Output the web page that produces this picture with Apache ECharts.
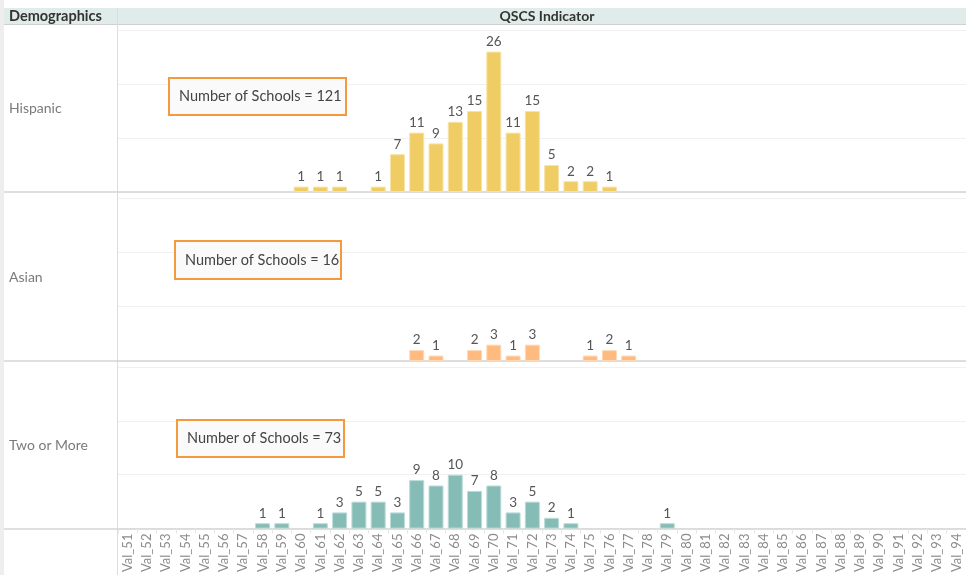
<!DOCTYPE html>
<html>
<head>
    <meta charset="utf-8">
    <title>QSCS Indicator</title>
    <style>
        html, body { margin: 0; padding: 0; background: #fff; }
        #container { width: 966px; height: 575px; }
    </style>
</head>
<body>
<div id="container"></div>
<script src="https://cdn.jsdelivr.net/npm/echarts@6/dist/echarts.min.js"></script>
<script type="text/javascript">
    // x categories (tick labels)
    var categories = ['Val_51', 'Val_52', 'Val_53', 'Val_54', 'Val_55', 'Val_56', 'Val_57', 'Val_58', 'Val_59', 'Val_60',
        'Val_61', 'Val_62', 'Val_63', 'Val_64', 'Val_65', 'Val_66', 'Val_67', 'Val_68', 'Val_69', 'Val_70',
        'Val_71', 'Val_72', 'Val_73', 'Val_74', 'Val_75', 'Val_76', 'Val_77', 'Val_78', 'Val_79', 'Val_80',
        'Val_81', 'Val_82', 'Val_83', 'Val_84', 'Val_85', 'Val_86', 'Val_87', 'Val_88', 'Val_89', 'Val_90',
        'Val_91', 'Val_92', 'Val_93', 'Val_94'];

    var groups = ['Hispanic', 'Asian', 'Two or More'];

    // number of schools per indicator value
    var hispanic = [['Val_60', 1], ['Val_61', 1], ['Val_62', 1], ['Val_64', 1], ['Val_65', 7], ['Val_66', 11],
        ['Val_67', 9], ['Val_68', 13], ['Val_69', 15], ['Val_70', 26], ['Val_71', 11], ['Val_72', 15],
        ['Val_73', 5], ['Val_74', 2], ['Val_75', 2], ['Val_76', 1]];
    var asian = [['Val_66', 2], ['Val_67', 1], ['Val_69', 2], ['Val_70', 3], ['Val_71', 1], ['Val_72', 3],
        ['Val_75', 1], ['Val_76', 2], ['Val_77', 1]];
    var twoOrMore = [['Val_58', 1], ['Val_59', 1], ['Val_61', 1], ['Val_62', 3], ['Val_63', 5], ['Val_64', 5],
        ['Val_65', 3], ['Val_66', 9], ['Val_67', 8], ['Val_68', 10], ['Val_69', 7], ['Val_70', 8],
        ['Val_71', 3], ['Val_72', 5], ['Val_73', 2], ['Val_74', 1], ['Val_79', 1]];

    var totals = [121, 16, 73];

    var seriesData = [hispanic, asian, twoOrMore];
    var colors = [
        { fill: '#f0cd64', border: '#f7e3a6' },
        { fill: '#ffba7f', border: '#ffd9b6' },
        { fill: '#86bcb6', border: '#bcdcd8' }
    ];

    var FONT = 'Lato';
    var gridTops = [30, 198, 367];
    var gridHeights = [162, 163, 162];
    var boxes = [
        { x: 169, y: 78, w: 177, h: 37 },
        { x: 175, y: 241, w: 166, h: 38 },
        { x: 177, y: 420, w: 167, h: 37 }
    ];
    var rowLabelY = [108, 277, 445];

    var dom = document.getElementById('container');
    var myChart = echarts.init(dom);

    var grids = [], xAxes = [], yAxes = [], series = [];
    for (var i = 0; i < 3; i++) {
        grids.push({ left: 118, right: 0, top: gridTops[i], height: gridHeights[i], containLabel: false });
        xAxes.push({
            type: 'category',
            gridIndex: i,
            data: categories,
            axisLine: { show: true, lineStyle: { color: '#d4d4d4', width: 1.5 } },
            axisTick: { show: i === 2, length: 5, lineStyle: { color: '#e6e6e6' } },
            axisLabel: {
                show: i === 2,
                rotate: 90,
                interval: 0,
                margin: 5,
                fontFamily: FONT,
                fontSize: 13,
                color: '#8c8c8c'
            }
        });
        yAxes.push({
            type: 'value',
            gridIndex: i,
            min: 0,
            max: 30,
            interval: 10,
            axisLabel: { show: false },
            axisLine: { show: false },
            axisTick: { show: false },
            splitLine: { show: true, lineStyle: { color: '#f0f0f0', width: 1 } }
        });
        series.push({
            name: groups[i],
            type: 'bar',
            xAxisIndex: i,
            yAxisIndex: i,
            barWidth: 15,
            data: seriesData[i],
            itemStyle: { color: colors[i].fill, borderColor: colors[i].border, borderWidth: 1 },
            label: {
                show: true,
                position: 'top',
                distance: 3,
                fontFamily: FONT,
                fontSize: 13.5,
                color: '#555'
            }
        });
    }

    var graphic = [
        // left margin strip
        { type: 'rect', shape: { x: 0, y: 0, width: 4, height: 575 }, style: { fill: '#eeeeee' }, silent: true },
        // header band
        { type: 'rect', shape: { x: 4, y: 8, width: 962, height: 16 }, style: { fill: '#dfece9' }, silent: true },
        { type: 'line', shape: { x1: 4, y1: 24.5, x2: 966, y2: 24.5 }, style: { stroke: '#d0d0d0', lineWidth: 1 }, silent: true },
        { type: 'text', x: 9, y: 16.5, style: { text: 'Demographics', fontFamily: FONT, fontWeight: 'bold', fontSize: 14.5, fill: '#333', verticalAlign: 'middle' } },
        { type: 'text', x: 547, y: 16.5, style: { text: 'QSCS Indicator', fontFamily: FONT, fontWeight: 'bold', fontSize: 14, fill: '#333', align: 'center', verticalAlign: 'middle' } },
        // left column divider
        { type: 'line', shape: { x1: 117.5, y1: 8, x2: 117.5, y2: 575 }, style: { stroke: '#dcdcdc', lineWidth: 1 }, silent: true }
    ];
    for (var j = 0; j < 3; j++) {
        var baseY = gridTops[j] + gridHeights[j];
        graphic.push({ type: 'line', shape: { x1: 4, y1: baseY, x2: 118, y2: baseY }, style: { stroke: '#d4d4d4', lineWidth: 1.5 }, silent: true });
        graphic.push({ type: 'text', x: 9, y: rowLabelY[j], style: { text: groups[j], fontFamily: FONT, fontSize: 14, fill: '#7a7a7a', verticalAlign: 'middle' } });
        var b = boxes[j];
        graphic.push({ type: 'rect', z: 10, shape: { x: b.x, y: b.y, width: b.w, height: b.h }, style: { fill: '#fafafa', stroke: '#f39a3e', lineWidth: 2 } });
        graphic.push({ type: 'text', z: 11, x: b.x + 10, y: b.y + b.h / 2, style: { text: 'Number of Schools = ' + totals[j], fontFamily: FONT, fontSize: 14.5, fill: '#444', verticalAlign: 'middle' } });
    }

    var option = {
        backgroundColor: '#ffffff',
        animation: false,
        grid: grids,
        xAxis: xAxes,
        yAxis: yAxes,
        series: series,
        graphic: graphic
    };
    myChart.setOption(option);
</script>
</body>
</html>
